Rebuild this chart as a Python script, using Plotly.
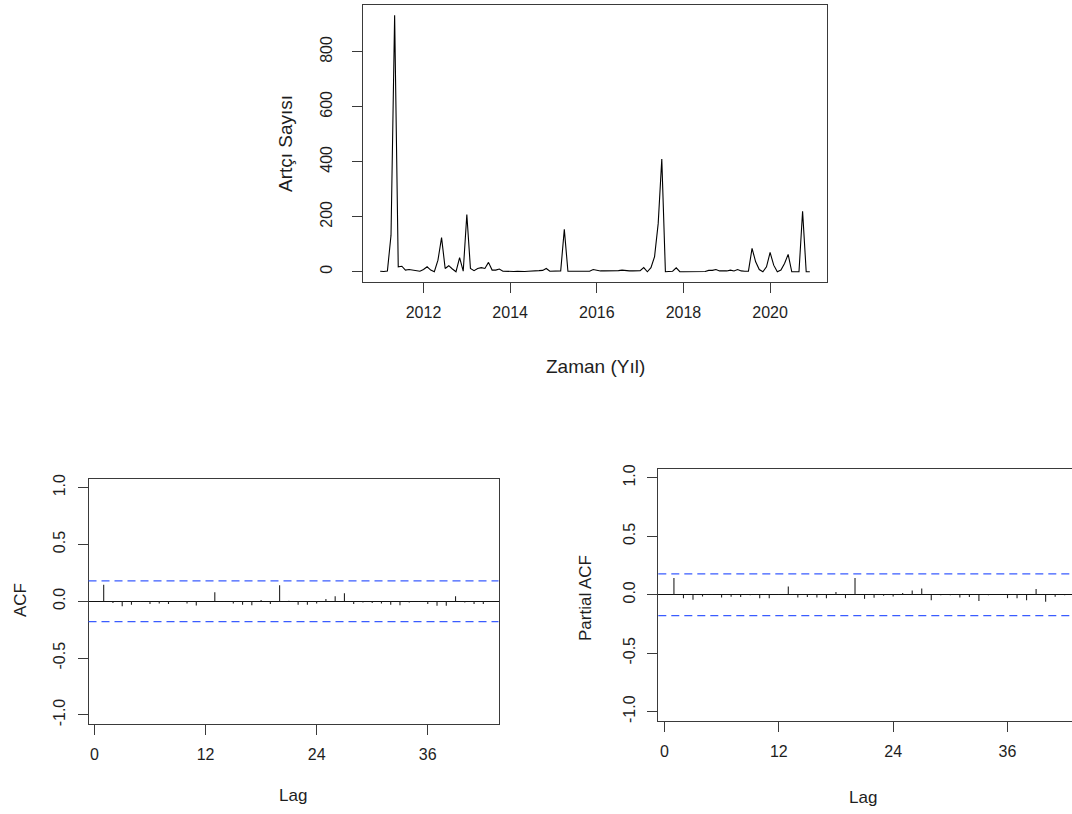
import numpy as np
import plotly.graph_objects as go

# Monthly aftershock counts, Jan 2011 - Dec 2020
start_year = 2011
counts = [
    2, 1, 3, 133, 933, 18, 20, 6, 8, 6, 4, 2,          # 2011
    8, 18, 6, 0, 42, 124, 12, 22, 10, 0, 51, 2,        # 2012
    208, 12, 4, 12, 15, 12, 34, 6, 6, 10, 2, 1,        # 2013
    1, 1, 2, 1, 1, 2, 2, 4, 4, 5, 12, 2,               # 2014
    2, 3, 3, 154, 2, 2, 2, 2, 2, 3, 2, 8,              # 2015
    5, 3, 3, 3, 3, 4, 4, 6, 4, 3, 3, 4,                # 2016
    4, 15, 0, 15, 55, 175, 410, 0, 0, 2, 14, 0,        # 2017
    0, 0, 0, 0, 0, 1, 1, 5, 5, 8, 3, 3,                # 2018
    3, 6, 3, 8, 3, 2, 2, 85, 36, 8, 0, 18,             # 2019
    70, 24, 0, 6, 30, 63, 0, 0, 0, 220, 0, 0,          # 2020
]
year_ticks = [2012, 2014, 2016, 2018, 2020]
count_ticks = [0, 200, 400, 600, 800]

# Sample autocorrelations, lags 1..42
acf_lags = list(range(1, 43))
acf_vals = [
    0.145, -0.015, -0.045, -0.030, -0.005, -0.025, -0.020, -0.025, -0.005, -0.020,
    -0.037, 0.003, 0.079, -0.003, -0.020, -0.030, -0.035, 0.012, -0.025, 0.140,
    0.005, -0.030, -0.030, -0.020, 0.020, 0.045, 0.070, -0.025, -0.010, -0.015,
    -0.020, -0.030, -0.035, -0.010, 0.002, -0.025, -0.040, -0.040, 0.045, -0.010,
    -0.025, -0.025,
]
# Sample partial autocorrelations, lags 1..42
pacf_lags = list(range(1, 43))
pacf_vals = [
    0.143, -0.029, -0.043, -0.014, 0.005, -0.023, -0.017, -0.020, -0.005, -0.029,
    -0.029, 0.005, 0.071, -0.023, -0.020, -0.023, -0.029, 0.023, -0.029, 0.143,
    -0.035, -0.026, -0.008, -0.014, 0.014, 0.036, 0.054, -0.046, -0.005, -0.005,
    -0.023, -0.020, -0.054, -0.005, 0.000, -0.029, -0.029, -0.046, 0.050, -0.060,
    -0.017, -0.005,
]
lag_ticks = [0, 12, 24, 36]
corr_ticks = [-1.0, -0.5, 0.0, 0.5, 1.0]
corr_labels = ["-1.0", "-0.5", "0.0", "0.5", "1.0"]

W, H = 1072, 814
FONT = "Liberation Sans, Arial, Helvetica, sans-serif"
TXT = "#1e1e1e"
LINE = "#3a3a3a"
BLUE = "#3a5cff"


def px(x):
    return x / W


def py(y):
    return 1 - y / H


def padded(lo, hi, frac=0.04):
    span = hi - lo
    return [lo - frac * span, hi + frac * span]


t = start_year + np.arange(len(counts)) / 12.0
n = len(counts)
ci = 1.96 / np.sqrt(n)

fig = go.Figure()

# time series
fig.add_trace(go.Scatter(x=t, y=counts, mode="lines",
                         line=dict(color="black", width=1.1),
                         xaxis="x", yaxis="y", hoverinfo="skip"))


def spikes(lags, vals):
    xs, ys = [], []
    for lg, v in zip(lags, vals):
        xs += [lg, lg, None]
        ys += [0, v, None]
    return xs, ys


ax, ay = spikes(acf_lags, acf_vals)
fig.add_trace(go.Scatter(x=ax, y=ay, mode="lines",
                         line=dict(color="#222222", width=1.1),
                         xaxis="x2", yaxis="y2", hoverinfo="skip"))
bx, by = spikes(pacf_lags, pacf_vals)
fig.add_trace(go.Scatter(x=bx, y=by, mode="lines",
                         line=dict(color="#222222", width=1.1),
                         xaxis="x3", yaxis="y3", hoverinfo="skip"))

# confidence bounds
shapes = []
for xr, yr in (("x2 domain", "y2"), ("x3 domain", "y3")):
    for c in (ci, -ci):
        shapes.append(dict(type="line", xref=xr, yref=yr, x0=0, x1=1, y0=c, y1=c,
                           layer="above",
                           line=dict(color=BLUE, width=1.3, dash="8px,5px")))

tickfont = dict(family=FONT, size=16, color=TXT)
common = dict(showgrid=False, zeroline=False, showline=True, linecolor=LINE,
              linewidth=1, ticks="outside", ticklen=10, tickcolor=LINE,
              tickfont=tickfont, automargin=False, ticklabelstandoff=6)

lag_span = padded(min(acf_lags), max(acf_lags))
# right-hand panel runs past the page edge; keep the same lag scale
left3, zero3, twelve3 = 658.3, 665.0, 779.2
px_per_lag = (twelve3 - zero3) / 12
pacf_right = (W - zero3) / px_per_lag

zl = dict(zeroline=True, zerolinecolor="#111111", zerolinewidth=1)

fig.update_layout(
    template="none",
    width=W, height=H,
    margin=dict(l=0, r=0, t=0, b=0, pad=0),
    paper_bgcolor="white", plot_bgcolor="white",
    showlegend=False,
    font=dict(family=FONT, color=TXT),
    xaxis=dict(domain=[px(363), px(827)], range=padded(t[0], t[-1]),
               tickvals=year_ticks, mirror=True, anchor="y", **common),
    yaxis=dict(domain=[py(282), py(5)], range=padded(0, max(counts)),
               tickvals=count_ticks, tickangle=-90, mirror=True, anchor="x",
               **{**common, "ticklabelstandoff": 14}),
    xaxis2=dict(domain=[px(88.5), px(498.5)], range=lag_span,
                tickvals=lag_ticks, mirror=True, anchor="y2", **common),
    yaxis2=dict(domain=[py(724), py(478.5)], range=padded(-1, 1),
                tickvals=corr_ticks, ticktext=corr_labels, tickangle=-90,
                mirror=True, anchor="x2", **{**common, **zl}),
    xaxis3=dict(domain=[px(left3), 1.0], range=[lag_span[0], pacf_right],
                tickvals=lag_ticks, mirror=True, anchor="y3", **common),
    yaxis3=dict(domain=[py(721), py(468.5)], range=padded(-1, 1),
                tickvals=corr_ticks, ticktext=corr_labels, tickangle=-90,
                mirror=False, anchor="x3", **{**common, **zl}),
    shapes=shapes,
)

titles = [
    ("Artçı Sayısı", 285, 144, -90, 19),
    ("Zaman (Yıl)", 595, 366, 0, 19),
    ("ACF", 20, 600, -90, 17),
    ("Lag", 293, 795, 0, 17),
    ("Partial ACF", 585, 598, -90, 17),
    ("Lag", 863, 797, 0, 17),
]
for text, x, y, ang, size in titles:
    fig.add_annotation(text=text, x=px(x), y=py(y), xref="paper", yref="paper",
                       showarrow=False, textangle=ang, xanchor="center",
                       yanchor="middle",
                       font=dict(family=FONT, size=size, color=TXT))

fig.write_html("out.html")
